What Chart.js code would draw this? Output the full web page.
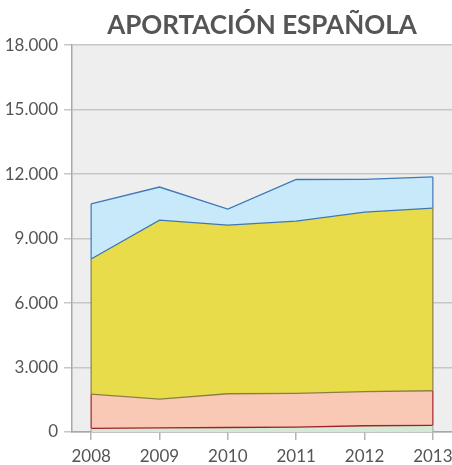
<!DOCTYPE html>
<html><head><meta charset="utf-8">
<script src="https://cdn.jsdelivr.net/npm/chart.js@4/dist/chart.umd.min.js"></script>
<style>html,body{margin:0;padding:0;background:#fff;overflow:hidden}#wrap{width:452px;height:465px}</style>
</head><body><div id="wrap"><canvas id="c"></canvas></div>
<script>
const years = [2008, 2009, 2010, 2011, 2012, 2013];
const serieVerde = [170, 190, 210, 230, 290, 310];
const serieRosa = [1590, 1340, 1570, 1570, 1590, 1610];
const serieAmarilla = [6290, 8330, 7850, 8010, 8350, 8500];
const serieAzul = [2570, 1540, 740, 1940, 1530, 1450];
const yTicks = [0, 3000, 6000, 9000, 12000, 15000, 18000];
const yTickLabels = ['0', '3.000', '6.000', '9.000', '12.000', '15.000', '18.000'];

const pts = arr => years.map((y, i) => ({x: y, y: arr[i]}));
const FONT = "Lato, 'Open Sans', sans-serif";

const bgPlugin = {
  id: 'bg',
  beforeDraw(chart) {
    const {ctx, chartArea: a} = chart;
    ctx.save(); ctx.fillStyle = '#eeeeee';
    ctx.fillRect(a.left, a.top, a.right - a.left, a.bottom - a.top);
    ctx.restore();
  }
};
const edgePlugin = {
  id: 'edges',
  afterDatasetsDraw(chart) {
    const ctx = chart.ctx;
    const y = chart.scales.y;
    ctx.save();
    chart.data.datasets.forEach((ds, di) => {
      const meta = chart.getDatasetMeta(di);
      const prev = di > 0 ? chart.getDatasetMeta(di - 1) : null;
      [0, meta.data.length - 1].forEach(i => {
        const p = meta.data[i];
        const bottom = prev ? prev.data[i].y : y.getPixelForValue(0);
        ctx.strokeStyle = ds.edgeColor; ctx.lineWidth = 1.2;
        ctx.beginPath(); ctx.moveTo(p.x, bottom); ctx.lineTo(p.x, p.y); ctx.stroke();
      });
    });
    ctx.restore();
  }
};

new Chart(document.getElementById('c'), {
  type: 'line',
  data: {
    datasets: [
      {data: pts(serieVerde), backgroundColor: '#d4e8d6', borderColor: '#a3202a', edgeColor: '#9fb5a5', fill: 'origin'},
      {data: pts(serieRosa), backgroundColor: '#f9c9b5', borderColor: '#8a8040', edgeColor: '#a3202a', fill: '-1'},
      {data: pts(serieAmarilla), backgroundColor: '#e8dc4a', borderColor: '#3d78b8', edgeColor: '#8a8040', fill: '-1'},
      {data: pts(serieAzul), backgroundColor: '#c8e9f9', borderColor: '#3d78b8', edgeColor: '#3d78b8', fill: '-1'}
    ]
  },
  options: {
    responsive: true, maintainAspectRatio: false, animation: false,
    elements: {point: {radius: 0}, line: {borderWidth: 1.3, tension: 0}},
    layout: {padding: {left: 0, right: 0, top: 0, bottom: 0}},
    plugins: {
      legend: {display: false}, tooltip: {enabled: false},
      title: {display: true, fullSize: false, text: 'APORTACIÓN ESPAÑOLA', color: '#555555',
        font: {family: FONT, size: 26, weight: 'bold'}, padding: {top: 10, bottom: 4}}
    },
    scales: {
      x: {
        type: 'linear', min: 2007.72, max: 2013.28,
        afterBuildTicks: s => { s.ticks = years.map(v => ({value: v})); },
        afterFit: s => { s.height = 33; s.paddingLeft = 0; s.paddingRight = 0; },
        grid: {drawOnChartArea: false, drawTicks: true, tickLength: 8, color: '#b4b4b4', lineWidth: 1.5},
        border: {color: '#a8a8a8', width: 1.5},
        ticks: {color: '#555555', padding: 6, font: {family: FONT, size: 17}, callback: v => String(v), maxRotation: 0}
      },
      y: {
        stacked: true, min: 0, max: 18000,
        afterBuildTicks: s => { s.ticks = yTicks.map(v => ({value: v})); },
        afterFit: s => { s.width = 72; s.paddingTop = 0; s.paddingBottom = 0; },
        grid: {color: '#c6c6c6', lineWidth: 1.5, tickLength: 8},
        border: {color: '#a8a8a8', width: 1.5},
        ticks: {color: '#555555', padding: 6, font: {family: FONT, size: 17},
          callback: (v) => yTickLabels[yTicks.indexOf(v)]}
      }
    }
  },
  plugins: [bgPlugin, edgePlugin]
});
</script></body></html>
